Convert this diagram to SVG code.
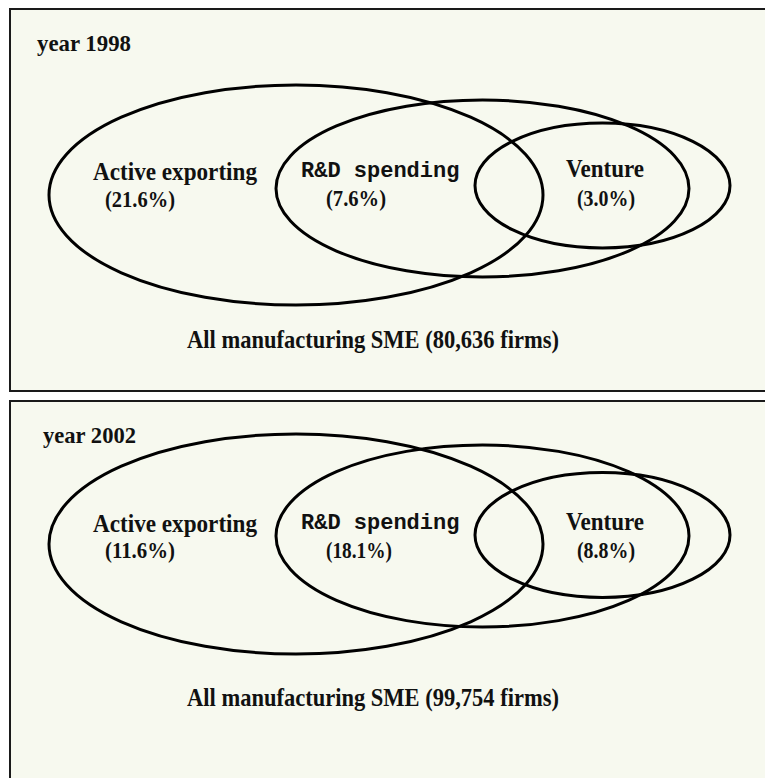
<svg xmlns="http://www.w3.org/2000/svg" width="765" height="778" viewBox="0 0 765 778">
<style>
.panel{fill:#f7f9ef;stroke:#1a1a1a;stroke-width:2}
.set{fill:none;stroke:#000;stroke-width:3}
.lbl{font-family:"Liberation Serif","Times New Roman",serif;font-weight:bold;font-size:25px;fill:#111}
.pct{font-family:"Liberation Serif","Times New Roman",serif;font-weight:bold;font-size:24px;fill:#111}
.yr{font-family:"Liberation Serif","Times New Roman",serif;font-weight:bold;font-size:23px;fill:#111}
.mono{font-family:"Liberation Mono","Courier New",monospace;font-weight:bold;font-size:22px;fill:#111}
.all{font-family:"Liberation Serif","Times New Roman",serif;font-weight:bold;font-size:25px;fill:#111}
</style>
<rect x="0" y="0" width="765" height="778" fill="#ffffff"/>
<g id="panel-1998">
  <rect class="panel" x="10" y="9" width="800" height="382"/>
  <text class="yr" x="37" y="51" textLength="94" lengthAdjust="spacingAndGlyphs">year 1998</text>
  <g id="active-1998">
    <ellipse class="set" cx="296" cy="195" rx="247" ry="110"/>
    <text class="lbl" x="93" y="180" textLength="164" lengthAdjust="spacingAndGlyphs">Active exporting</text>
    <text class="pct" x="105" y="207" textLength="70" lengthAdjust="spacingAndGlyphs">(21.6%)</text>
  </g>
  <g id="rd-1998">
    <ellipse class="set" cx="482.5" cy="188.5" rx="206.5" ry="88.5"/>
    <text class="mono" x="301" y="177">R&amp;D spending</text>
    <text class="pct" x="326" y="206" textLength="60" lengthAdjust="spacingAndGlyphs">(7.6%)</text>
  </g>
  <g id="venture-1998">
    <ellipse class="set" cx="602.5" cy="185.5" rx="127.5" ry="62.5"/>
    <text class="lbl" x="566" y="177" textLength="78" lengthAdjust="spacingAndGlyphs">Venture</text>
    <text class="pct" x="577" y="206" textLength="58" lengthAdjust="spacingAndGlyphs">(3.0%)</text>
  </g>
  <text class="all" x="187" y="348" textLength="372" lengthAdjust="spacingAndGlyphs">All manufacturing SME (80,636 firms)</text>
</g>
<g id="panel-2002">
  <rect class="panel" x="10" y="401" width="800" height="420"/>
  <text class="yr" x="43" y="443" textLength="93" lengthAdjust="spacingAndGlyphs">year 2002</text>
  <g id="active-2002">
    <ellipse class="set" cx="296" cy="544" rx="247" ry="110"/>
    <text class="lbl" x="93" y="532" textLength="164" lengthAdjust="spacingAndGlyphs">Active exporting</text>
    <text class="pct" x="105" y="558" textLength="70" lengthAdjust="spacingAndGlyphs">(11.6%)</text>
  </g>
  <g id="rd-2002">
    <ellipse class="set" cx="482.5" cy="536" rx="206.5" ry="91"/>
    <text class="mono" x="301" y="529">R&amp;D spending</text>
    <text class="pct" x="326" y="558" textLength="66" lengthAdjust="spacingAndGlyphs">(18.1%)</text>
  </g>
  <g id="venture-2002">
    <ellipse class="set" cx="602.5" cy="535" rx="127.5" ry="62.5"/>
    <text class="lbl" x="566" y="530" textLength="78" lengthAdjust="spacingAndGlyphs">Venture</text>
    <text class="pct" x="577" y="558" textLength="58" lengthAdjust="spacingAndGlyphs">(8.8%)</text>
  </g>
  <text class="all" x="187" y="706" textLength="372" lengthAdjust="spacingAndGlyphs">All manufacturing SME (99,754 firms)</text>
</g>
</svg>
